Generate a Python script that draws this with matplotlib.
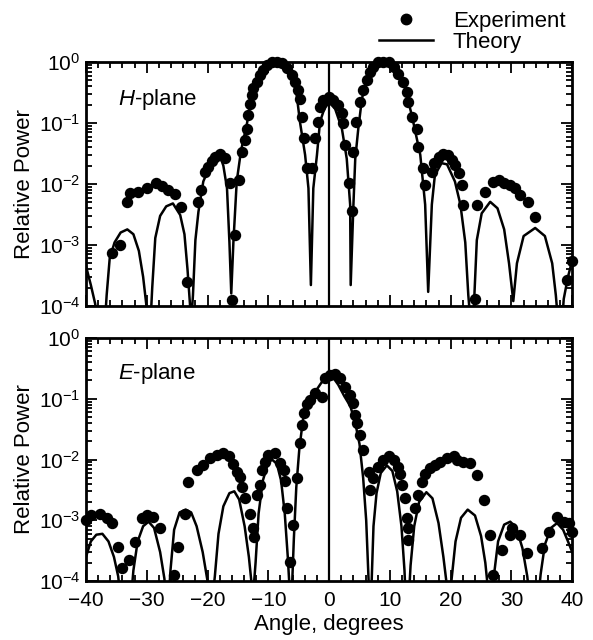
import numpy as np
import matplotlib
matplotlib.use("Agg")
import matplotlib.pyplot as plt
from matplotlib.ticker import LogLocator, MultipleLocator, NullFormatter
from matplotlib.lines import Line2D

plt.rcParams['font.family'] = ['Liberation Sans', 'DejaVu Sans']
plt.rcParams['mathtext.fontset'] = 'custom'
plt.rcParams['mathtext.rm'] = 'Liberation Sans'
plt.rcParams['mathtext.it'] = 'Liberation Sans:italic'

# H-plane theory (angle deg, relative power)
h_theory_x = [-40.0, -39.2, -38.5, -38.0, -36.9, -36.6, -36.1, -35.3, -34.3, -33.2, -32.2, -31.3,
              -30.6, -30.1, -29.8, -29.4, -29.1, -28.6, -27.8, -26.8, -25.7, -24.5, -23.8, -23.3,
              -22.9, -22.7, -22.4, -22.0, -21.5, -20.7, -19.6, -18.2, -17.4, -16.8, -16.4, -16.1,
              -15.75, -15.2, -14.5, -13.5, -12.7, -11.4, -10.2, -8.9, -7.8, -7.0, -6.1, -5.6,
              -4.8, -3.95, -3.4, -3.0, -2.6, -2.0, -1.5, -0.8, 0.0, 1.0, 2.1, 2.9,
              3.46, 3.55, 4.0, 4.3, 4.8, 5.4, 6.2, 7.5, 8.9, 10.5, 12.2, 13.6,
              15.0, 15.8, 16.3, 16.9, 17.4, 18.5, 19.4, 20.7, 21.6, 22.4, 22.9, 23.3,
              23.7, 23.9, 24.3, 25.1, 26.5, 27.7, 28.8, 29.6, 30.3, 30.9, 32.0, 33.9,
              35.5, 36.7, 37.3, 37.7, 38.3, 38.6, 39.3, 40.0]
h_theory_y = [4.5e-4, 2.2e-4, 1.1e-4, 5e-5, 5e-5, 1.5e-4, 6e-4, 1.1e-3, 1.6e-3, 1.8e-3, 1.5e-3, 8e-4,
              3e-4, 1.1e-4, 5e-5, 5e-5, 2e-4, 1.3e-3, 3e-3, 4.3e-3, 4.8e-3, 3.1e-3, 1.5e-3, 4e-4,
              1.1e-4, 5e-5, 1.5e-4, 1.2e-3, 3.5e-3, 1.1e-2, 2.0e-2, 3.4e-2, 2.0e-2, 8.5e-3, 1.1e-3, 1.6e-4,
              1.1e-3, 1.1e-2, 3.5e-2, 0.1, 0.29, 0.62, 0.88, 1.0, 0.95, 0.8, 0.6, 0.48,
              0.105, 0.03, 8.5e-3, 2.2e-4, 8.5e-3, 0.03, 0.105, 0.17, 0.22, 0.17, 0.081, 0.026,
              4.6e-3, 2.2e-4, 4.6e-3, 0.026, 0.081, 0.25, 0.54, 0.9, 1.0, 0.85, 0.48, 0.135,
              0.03, 4.6e-3, 1.7e-4, 4.6e-3, 0.014, 0.022, 0.021, 0.011, 4.6e-3, 1.1e-3, 1.5e-4, 5e-5,
              5e-5, 1.5e-4, 1.2e-3, 3.3e-3, 5.1e-3, 4e-3, 1.8e-3, 5e-4, 1.2e-4, 5e-4, 1.4e-3, 1.9e-3,
              1.4e-3, 5e-4, 1.5e-4, 5e-5, 5e-5, 1.3e-4, 3e-4, 5.6e-4]

# H-plane experiment (angle deg, log10 relative power)
h_exp_x = [-35.8, -34.4, -33.3, -32.8, -31.4, -30.0, -28.4, -27.5, -26.5, -25.3, -24.4, -23.4,
           -21.5, -21.0, -20.4, -19.9, -19.3, -18.8, -17.9, -17.1, -16.3, -16.0, -15.5, -14.9,
           -14.4, -13.8, -13.5, -13.3, -13.0, -12.7, -12.5, -11.9, -11.4, -10.8, -10.3, -9.4,
           -8.6, -7.8, -7.0, -6.1, -5.6, -5.05, -4.8, -4.5, -4.2, -3.7, -2.85, -2.3,
           -1.75, -1.5, -0.94, -0.1, 0.7, 1.5, 2.1, 2.35, 2.6, 3.2, 3.7, 4.0,
           4.4, 5.1, 5.65, 6.2, 6.75, 7.3, 8.1, 8.9, 9.8, 10.6, 11.4, 12.2,
           12.8, 13.05, 13.6, 14.4, 14.7, 15.5, 15.8, 16.9, 17.2, 18.0, 18.8, 19.6,
           20.2, 20.7, 21.3, 21.8, 22.1, 24.0, 24.3, 25.7, 27.0, 27.9, 28.7, 29.8,
           30.6, 31.4, 32.8, 33.9, 39.1, 40.0]
h_exp_log = [-3.13, -3.00, -2.29, -2.15, -2.13, -2.07, -1.99, -2.04, -2.10, -2.16, -2.37, -3.60,
             -2.29, -2.10, -1.80, -1.72, -1.63, -1.55, -1.50, -1.58, -1.99, -3.90, -2.84, -1.93,
             -1.47, -1.28, -1.09, -0.87, -0.68, -0.54, -0.43, -0.32, -0.21, -0.13, -0.05, 0.0,
             0.0, -0.02, -0.10, -0.21, -0.32, -0.46, -0.60, -0.90, -1.25, -1.74, -1.74, -1.25,
             -0.98, -0.73, -0.62, -0.57, -0.62, -0.70, -0.84, -1.00, -1.36, -1.99, -2.45, -1.47,
             -0.98, -0.65, -0.46, -0.30, -0.16, -0.08, 0.0, 0.0, 0.0, -0.08, -0.19, -0.32,
             -0.49, -0.65, -0.90, -1.09, -1.39, -1.74, -2.02, -1.80, -1.66, -1.55, -1.50, -1.52,
             -1.61, -1.69, -1.82, -2.02, -2.34, -3.88, -2.35, -2.13, -1.96, -1.93, -1.98, -2.02,
             -2.07, -2.18, -2.29, -2.54, -3.57, -3.27]

# E-plane theory
e_theory_x = [-40.0, -39.2, -38.3, -37.3, -36.3, -35.4, -34.7, -34.3, -32.6, -32.2, -31.5, -30.6,
              -29.7, -28.8, -27.8, -27.1, -26.8, -26.4, -26.1, -25.5, -24.6, -23.6, -22.7, -21.8,
              -20.8, -20.0, -19.6, -19.2, -18.8, -18.2, -17.4, -16.4, -15.6, -14.8, -13.9, -13.2,
              -12.7, -12.4, -12.1, -11.6, -10.9, -10.1, -9.4, -8.6, -7.9, -7.3, -6.8, -6.4,
              -6.1, -5.8, -5.4, -4.9, -4.3, -3.5, -2.5, -1.5, -0.7, 0.0, 0.7, 1.5,
              2.5, 3.5, 4.3, 5.0, 5.6, 6.1, 6.5, 6.7, 7.0, 7.3, 7.8, 8.5,
              9.5, 10.4, 11.2, 11.9, 12.4, 12.6, 13.1, 13.4, 14.0, 14.8, 16.0, 17.0,
              18.0, 18.8, 19.4, 19.8, 20.2, 20.8, 21.7, 22.8, 24.0, 25.0, 25.7, 26.1,
              26.8, 27.1, 27.8, 28.8, 29.8, 30.8, 31.8, 32.6, 33.0, 34.4, 34.8, 35.5,
              36.5, 37.5, 38.5, 39.3, 40.0]
e_theory_y = [2.5e-4, 4.5e-4, 5.8e-4, 6e-4, 4.5e-4, 2.5e-4, 1.2e-4, 5e-5, 5e-5, 1.5e-4, 4.5e-4, 8e-4,
              9.5e-4, 7.5e-4, 3e-4, 1.1e-4, 5e-5, 5e-5, 1.5e-4, 7e-4, 1.35e-3, 1.5e-3, 1.35e-3, 8e-4,
              3e-4, 1e-4, 5e-5, 5e-5, 1.2e-4, 6e-4, 1.7e-3, 2.8e-3, 3e-3, 2.2e-3, 8e-4, 2.5e-4,
              8e-5, 8e-5, 2e-4, 1.3e-3, 4.5e-3, 8.5e-3, 1e-2, 8.5e-3, 4.5e-3, 1.3e-3, 2.5e-4, 5e-5,
              8e-5, 5e-4, 3.5e-3, 0.015, 0.045, 0.085, 0.12, 0.17, 0.22, 0.235, 0.22, 0.17,
              0.11, 0.075, 0.04, 0.018, 5e-3, 1e-3, 1e-4, 5e-5, 1e-4, 8e-4, 2.8e-3, 6e-3,
              8e-3, 6.5e-3, 3e-3, 8e-4, 1.5e-4, 5e-5, 5e-5, 1.8e-4, 8e-4, 2e-3, 2.9e-3, 2.3e-3,
              9e-4, 2.5e-4, 8e-5, 5e-5, 1.2e-4, 4.5e-4, 1.1e-3, 1.5e-3, 1.2e-3, 5.5e-4, 2e-4, 8e-5,
              5e-5, 1.2e-4, 4.5e-4, 8.5e-4, 9.5e-4, 7.5e-4, 3.5e-4, 1.2e-4, 5e-5, 5e-5, 1.3e-4, 4e-4,
              7.5e-4, 9e-4, 7e-4, 4.5e-4, 3e-4]

# E-plane experiment (angle deg, log10 relative power)
e_exp_x = [-40.0, -39.1, -37.7, -36.6, -35.8, -34.7, -34.1, -33.0, -31.9, -30.8, -30.0, -28.9,
           -27.8, -25.6, -24.8, -23.7, -23.2, -21.8, -20.7, -19.6, -18.5, -17.5, -16.5, -15.8,
           -15.2, -14.7, -14.4, -13.8, -13.0, -12.5, -12.3, -11.9, -11.4, -11.1, -10.5, -10.0,
           -8.9, -8.1, -7.5, -7.2, -7.0, -6.4, -5.9, -5.3, -4.8, -4.5, -4.2, -3.7,
           -3.1, -2.3, -1.2, -0.66, 0.16, 1.0, 1.8, 2.6, 3.46, 4.0, 4.3, 4.6,
           5.1, 5.65, 6.5, 6.75, 7.3, 8.1, 8.9, 9.8, 10.6, 11.4, 11.7, 12.0,
           12.5, 12.8, 13.05, 13.05, 14.2, 14.7, 15.3, 15.8, 16.6, 17.4, 18.3, 19.4,
           20.5, 21.0, 22.1, 23.2, 24.3, 25.4, 26.5, 27.0, 28.4, 29.8, 30.1, 31.4,
           32.5, 35.0, 36.1, 37.5, 38.6, 39.4, 40.0]
e_exp_log = [-3.00, -2.91, -2.89, -2.97, -3.05, -3.44, -3.79, -3.65, -3.35, -2.97, -2.91, -2.94,
             -3.13, -3.90, -3.44, -2.89, -2.37, -2.17, -2.09, -1.98, -1.93, -1.90, -1.95, -2.07,
             -2.20, -2.28, -2.45, -2.64, -2.89, -3.13, -3.27, -2.58, -2.42, -2.17, -2.04, -1.93,
             -1.90, -2.06, -2.17, -2.36, -2.80, -3.68, -3.08, -2.31, -1.73, -1.43, -1.24, -1.08,
             -1.02, -0.91, -0.97, -0.66, -0.61, -0.60, -0.66, -0.80, -0.94, -1.07, -1.27, -1.40,
             -1.60, -1.84, -2.20, -2.50, -2.31, -2.12, -2.01, -1.95, -2.01, -2.12, -2.23, -2.42,
             -2.64, -2.97, -3.13, -3.33, -2.80, -2.58, -2.37, -2.23, -2.14, -2.09, -2.04, -1.98,
             -1.95, -2.01, -2.04, -2.06, -2.26, -2.67, -3.24, -3.90, -3.49, -3.24, -3.13, -3.24,
             -3.54, -3.46, -3.19, -2.94, -3.02, -3.05, -3.19]

boresight = 0
x_range = (-40, 40)
y_range = (1e-4, 1e0)

fig = plt.figure(figsize=(5.93, 6.40), dpi=100)
ax1 = fig.add_axes([0.145, 0.522, 0.82, 0.381])
ax2 = fig.add_axes([0.145, 0.092, 0.82, 0.380])


def style(ax, name, name_y, show_x):
    ax.set_yscale('log')
    ax.set_xlim(*x_range)
    ax.set_ylim(*y_range)
    ax.xaxis.set_major_locator(MultipleLocator(10))
    ax.xaxis.set_minor_locator(MultipleLocator(2))
    ax.yaxis.set_major_locator(LogLocator(base=10, numticks=10))
    ax.yaxis.set_minor_locator(LogLocator(base=10, subs=np.arange(2, 10), numticks=10))
    ax.yaxis.set_minor_formatter(NullFormatter())
    ax.tick_params(which='both', direction='in', top=True, right=True, width=1.3)
    ax.tick_params(which='major', length=8, labelsize=15)
    ax.tick_params(axis='y', which='major', pad=4)
    ax.tick_params(axis='x', which='major', pad=7)
    ax.tick_params(which='minor', length=4.5)
    for s in ax.spines.values():
        s.set_linewidth(2.0)
    if not show_x:
        ax.tick_params(labelbottom=False)
    ax.set_ylabel('Relative Power', fontsize=16, labelpad=3)
    ax.text(0.066, name_y, name, transform=ax.transAxes, fontsize=16, va='center')
    ax.axvline(boresight, color='black', lw=1.6)


ax1.plot(h_theory_x, h_theory_y, color='black', lw=1.8)
ax1.plot(h_exp_x, 10.0 ** np.array(h_exp_log), 'o', color='black', ms=7.2, clip_on=False)
style(ax1, '$H$-plane', 0.845, False)

ax2.plot(e_theory_x, e_theory_y, color='black', lw=1.8)
ax2.plot(e_exp_x, 10.0 ** np.array(e_exp_log), 'o', color='black', ms=7.2, clip_on=False)
style(ax2, '$E$-plane', 0.855, True)
ax2.set_xlabel('Angle, degrees', fontsize=16, labelpad=3)

handles = [Line2D([], [], marker='o', ls='none', color='black', ms=7.5),
           Line2D([], [], color='black', lw=1.8)]
fig.legend(handles, ['Experiment', 'Theory'], loc='upper right',
           bbox_to_anchor=(0.987, 1.014), frameon=False, fontsize=16,
           handlelength=2.4, handletextpad=0.9, labelspacing=0.0)

fig.savefig('out.png', dpi=100)
